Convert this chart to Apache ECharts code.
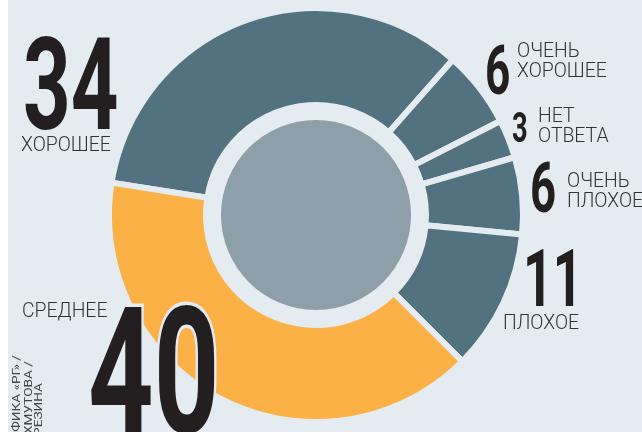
<!DOCTYPE html>
<html>
<head>
<meta charset="utf-8">
<script src="https://cdn.jsdelivr.net/npm/echarts@6/dist/echarts.min.js"></script>
<style>
html,body{margin:0;padding:0;background:#ffffff;}
#c{width:642px;height:432px;}
</style>
</head>
<body>
<div id="c"></div>
<script>
// ---- data ----
const categories = ['ХОРОШЕЕ', 'ОЧЕНЬ ХОРОШЕЕ', 'НЕТ ОТВЕТА', 'ОЧЕНЬ ПЛОХОЕ', 'ПЛОХОЕ', 'СРЕДНЕЕ'];
const values = [34, 6, 3, 6, 11, 40];
const labelLines = [['ХОРОШЕЕ'], ['ОЧЕНЬ', 'ХОРОШЕЕ'], ['НЕТ', 'ОТВЕТА'], ['ОЧЕНЬ', 'ПЛОХОЕ'], ['ПЛОХОЕ'], ['СРЕДНЕЕ']];
const creditLines = ['ИНФОГРАФИКА «РГ» /', 'АХМУТОВА /', 'БЕРЕЗИНА'];

// ---- style ----
const BG = '#e4ecf2';
const SLATE = '#52727f';
const ORANGE = '#fbb145';
const GREY = '#8d9fa9';
const INK = '#231f20';
const sliceColors = [SLATE, SLATE, SLATE, SLATE, SLATE, ORANGE];

// label layout: number box (left, cap top, font size), text (left, cap top)
const layout = [
  { nx: 23, ny: 37, nf: 128, tx: 21, ty: 139 },
  { nx: 485, ny: 45, nf: 68, tx: 517, ty: 45 },
  { nx: 512, ny: 112, nf: 42, tx: 538, ty: 110 },
  { nx: 530, ny: 162, nf: 70, tx: 567, ty: 175 },
  { nx: 523, ny: 248, nf: 80, tx: 503, ty: 317 },
  { nx: 88, ny: 305, nf: 176, tx: 22, ty: 305, stroke: true }
];

const chart = echarts.init(document.getElementById('c'), null, { renderer: 'canvas' });

const graphics = [
  { type: 'rect', shape: { x: 0, y: 0, width: 8, height: 432 }, style: { fill: '#ffffff' }, z: 0, silent: true }
];

values.forEach((v, i) => {
  const L = layout[i];
  graphics.push({
    type: 'text',
    x: L.nx, y: L.ny - L.nf * 0.03,
    scaleX: 0.65,
    z: 10,
    style: {
      text: String(v),
      font: 'bold ' + L.nf + 'px Roboto',
      fill: INK,
      align: 'left',
      verticalAlign: 'top',
      stroke: L.stroke ? BG : null,
      lineWidth: L.stroke ? 7 : 0,
      strokeFirst: true
    }
  });
  const tf = 20;
  graphics.push({
    type: 'text',
    x: L.tx, y: L.ty - 3,
    scaleX: 0.97,
    z: 10,
    style: {
      text: labelLines[i].join('\n'),
      font: '300 ' + tf + 'px Roboto',
      lineHeight: 20,
      fill: '#333333',
      align: 'left',
      verticalAlign: 'top'
    }
  });
});

const creditX = [17, 29, 39];
const creditEnd = [355, 361, 383];
creditLines.forEach((t, i) => {
  graphics.push({
    type: 'text',
    x: creditX[i], y: creditEnd[i],
    rotation: Math.PI / 2,
    scaleX: 1.3,
    z: 10,
    style: {
      text: t,
      font: 'normal 10.5px Roboto',
      fill: '#444',
      align: 'right',
      verticalAlign: 'middle'
    }
  });
});

chart.setOption({
  backgroundColor: BG,
  animation: false,
  graphic: graphics,
  series: [
    {
      type: 'pie',
      center: [316, 215],
      radius: [110, 207],
      startAngle: 171,
      clockwise: true,
      silent: true,
      label: { show: false },
      labelLine: { show: false },
      itemStyle: { borderColor: BG, borderWidth: 6 },
      data: values.map((v, i) => ({ name: categories[i], value: v, itemStyle: { color: sliceColors[i] } })),
      z: 2
    },
    {
      type: 'pie',
      center: [316, 215],
      radius: [0, 95],
      silent: true,
      label: { show: false },
      labelLine: { show: false },
      data: [{ value: 1, name: 'центр', itemStyle: { color: GREY } }],
      z: 2
    }
  ]
});
</script>
</body>
</html>
